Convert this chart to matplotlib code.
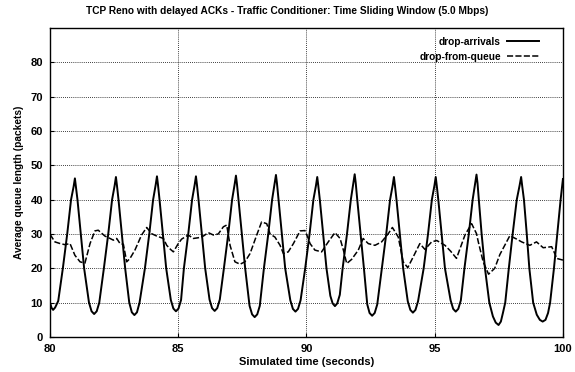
import matplotlib
matplotlib.use("Agg")
import matplotlib.pyplot as plt

plt.rcParams['font.family'] = ['Liberation Sans', 'DejaVu Sans']
plt.rcParams['font.weight'] = 'bold'

# drop-arrivals (solid)
t_arr = [80.00, 80.06, 80.12, 80.20, 80.32, 80.50, 80.67, 80.82, 80.92, 80.97,
         81.01, 81.07, 81.20, 81.33, 81.52, 81.62, 81.72, 81.82, 81.92,
         82.10, 82.27, 82.42, 82.52, 82.57, 82.61, 82.67, 82.80, 82.93, 83.09,
         83.19, 83.29, 83.39, 83.49,
         83.70, 83.87, 84.02, 84.12, 84.17, 84.21, 84.27, 84.40, 84.53,
         84.71, 84.81, 84.91, 85.01, 85.11,
         85.22, 85.39, 85.54, 85.64, 85.69, 85.73, 85.79, 85.92, 86.05,
         86.22, 86.32, 86.42, 86.52, 86.62,
         86.78, 86.95, 87.10, 87.20, 87.25, 87.29, 87.35, 87.48, 87.61,
         87.78, 87.88, 87.98, 88.08, 88.18,
         88.34, 88.51, 88.66, 88.76, 88.81, 88.85, 88.91, 89.04, 89.17,
         89.37, 89.47, 89.57, 89.67, 89.77,
         89.95, 90.12, 90.27, 90.37, 90.42, 90.46, 90.52, 90.65, 90.78,
         90.93, 91.02, 91.11, 91.20, 91.30,
         91.41, 91.58, 91.73, 91.83, 91.88, 91.92, 91.98, 92.11, 92.24,
         92.37, 92.46, 92.56, 92.66, 92.76,
         92.94, 93.11, 93.26, 93.36, 93.41, 93.45, 93.51, 93.64, 93.77,
         93.95, 94.05, 94.15, 94.25, 94.35,
         94.57, 94.74, 94.89, 94.99, 95.04, 95.08, 95.14, 95.27, 95.40,
         95.62, 95.72, 95.82, 95.92, 96.02,
         96.16, 96.33, 96.48, 96.58, 96.63, 96.67, 96.72, 96.83, 96.96,
         97.13, 97.27, 97.38, 97.49, 97.58, 97.66, 97.75,
         97.89, 98.04, 98.20, 98.31, 98.37, 98.41, 98.48, 98.59, 98.69,
         98.84, 98.98, 99.10, 99.21, 99.32, 99.42, 99.50,
         99.65, 99.78, 99.91, 100.00]
v_arr = [10.0, 8.5, 7.9, 8.6, 10.5, 20.0, 30.0, 40.0, 43.8, 46.2,
         43.8, 40.0, 30.0, 20.0, 10.0, 7.5, 6.7, 7.5, 10.0,
         20.0, 30.0, 40.0, 44.1, 46.6, 44.1, 40.0, 30.0, 20.0, 10.0,
         7.2, 6.4, 7.2, 10.0,
         20.0, 30.0, 40.0, 44.3, 46.8, 44.3, 40.0, 30.0, 20.0,
         10.8, 8.3, 7.5, 8.3, 10.8,
         20.0, 30.0, 40.0, 44.3, 46.8, 44.3, 40.0, 30.0, 20.0,
         10.9, 8.4, 7.6, 8.4, 10.9,
         20.0, 30.0, 40.0, 44.5, 47.0, 44.5, 40.0, 30.0, 20.0,
         9.1, 6.6, 5.8, 6.6, 9.1,
         20.0, 30.0, 40.0, 44.7, 47.2, 44.7, 40.0, 30.0, 20.0,
         10.7, 8.2, 7.4, 8.2, 10.7,
         20.0, 30.0, 40.0, 44.1, 46.6, 44.1, 40.0, 30.0, 20.0,
         12.0, 9.8, 9.0, 9.8, 12.3,
         20.0, 30.0, 40.0, 44.9, 47.4, 44.9, 40.0, 30.0, 20.0,
         9.5, 7.0, 6.2, 7.0, 9.5,
         20.0, 30.0, 40.0, 44.1, 46.6, 44.1, 40.0, 30.0, 20.0,
         10.4, 7.9, 7.1, 7.9, 10.4,
         20.0, 30.0, 40.0, 44.1, 46.6, 44.1, 40.0, 30.0, 20.0,
         10.7, 8.2, 7.4, 8.2, 10.7,
         20.0, 30.0, 40.0, 44.8, 47.3, 44.8, 40.0, 30.0, 20.0,
         10.0, 6.0, 4.2, 3.5, 4.5, 7.0, 10.0,
         20.0, 30.0, 40.0, 44.1, 46.6, 44.1, 40.0, 30.0, 20.0,
         10.0, 6.5, 5.0, 4.5, 5.0, 7.0, 10.0,
         20.0, 30.0, 40.0, 46.0]

# drop-from-queue (dashed)
t_que = [80.00, 80.19, 80.40, 80.58, 80.78, 80.97, 81.17, 81.36, 81.56, 81.75,
         81.88, 82.14, 82.34, 82.47, 82.60, 82.73, 82.86, 82.99, 83.12, 83.31,
         83.57, 83.77, 83.96, 84.16, 84.42, 84.55, 84.70, 84.81, 85.00, 85.13,
         85.39, 85.59, 85.78, 85.98, 86.17, 86.37, 86.56, 86.76, 86.89, 87.02,
         87.21, 87.41, 87.60, 87.80, 88.06, 88.25, 88.45, 88.58, 88.77, 88.97,
         89.10, 89.29, 89.49, 89.75, 89.94, 90.07, 90.14, 90.33, 90.59, 90.85,
         91.11, 91.31, 91.44, 91.57, 91.76, 92.02, 92.21, 92.41, 92.67, 92.93,
         93.19, 93.35, 93.58, 93.77, 93.95, 94.16, 94.42, 94.62, 94.88, 95.08,
         95.40, 95.62, 95.85, 96.18, 96.44, 96.63, 96.70, 96.89, 97.10, 97.34,
         97.54, 97.93, 98.20, 98.39, 98.71, 98.97, 99.23, 99.56, 99.70, 99.75,
         100.00]
v_que = [29.9, 27.7, 27.2, 26.9, 27.2, 23.8, 21.9, 21.5, 27.2, 30.9,
         31.1, 29.4, 28.7, 28.2, 28.7, 27.2, 27.0, 21.9, 22.9, 25.3,
         29.7, 31.9, 30.1, 29.4, 28.7, 26.7, 25.5, 24.8, 27.2, 28.5,
         29.7, 28.7, 28.9, 29.4, 30.4, 29.7, 30.0, 32.1, 32.6, 26.7,
         21.9, 21.2, 21.9, 24.3, 29.7, 33.5, 33.0, 30.0, 29.1, 26.7,
         24.3, 24.8, 27.2, 30.9, 31.0, 28.7, 27.2, 25.3, 24.8, 27.7,
         30.4, 28.7, 25.3, 21.4, 22.6, 25.3, 28.7, 27.2, 26.7, 27.7,
         30.1, 31.9, 29.1, 21.9, 20.2, 23.3, 27.2, 25.5, 27.7, 28.1,
         26.7, 25.0, 22.9, 29.7, 33.0, 30.1, 27.7, 21.9, 18.3, 20.0,
         24.0, 29.5, 28.5, 27.7, 26.7, 27.7, 26.0, 26.3, 24.0, 22.9,
         22.4]

x_ticks = [80, 85, 90, 95, 100]
y_ticks = [0, 10, 20, 30, 40, 50, 60, 70, 80]

fig = plt.figure(figsize=(5.75, 3.72), dpi=100)
ax = fig.add_axes([0.087, 0.094, 0.892, 0.831])

ax.plot(t_arr, v_arr, color='black', lw=1.4, label='drop-arrivals')
ax.plot(t_que, v_que, color='black', lw=1.1, dashes=(4, 1.5), label='drop-from-queue')

ax.set_xlim(80, 100)
ax.set_ylim(0, 90)
ax.set_xticks(x_ticks)
ax.set_yticks(y_ticks)
ax.tick_params(direction='in', labelsize=8, length=3, width=0.8, pad=5)
for lab in ax.get_xticklabels() + ax.get_yticklabels():
    lab.set_fontweight('bold')
ax.grid(True, color='black', linestyle=(0, (1, 1.5)), linewidth=0.6)
for s in ax.spines.values():
    s.set_linewidth(1.0)

fig.suptitle('TCP Reno with delayed ACKs - Traffic Conditioner: Time Sliding Window (5.0 Mbps)',
             x=0.5, y=0.985, fontsize=7.3, fontweight='bold')
ax.set_xlabel('Simulated time (seconds)', fontsize=8, fontweight='bold', labelpad=2)
ax.set_ylabel('Average queue length (packets)', fontsize=7.3, fontweight='bold', labelpad=5)

leg = ax.legend(loc='upper right', bbox_to_anchor=(0.972, 1.0), frameon=False,
                markerfirst=False, fontsize=7.3, handlelength=3.2, borderaxespad=0.5,
                labelspacing=0.45, handletextpad=0.6)
for txt in leg.get_texts():
    txt.set_fontweight('bold')

fig.savefig('out.png', dpi=100)
